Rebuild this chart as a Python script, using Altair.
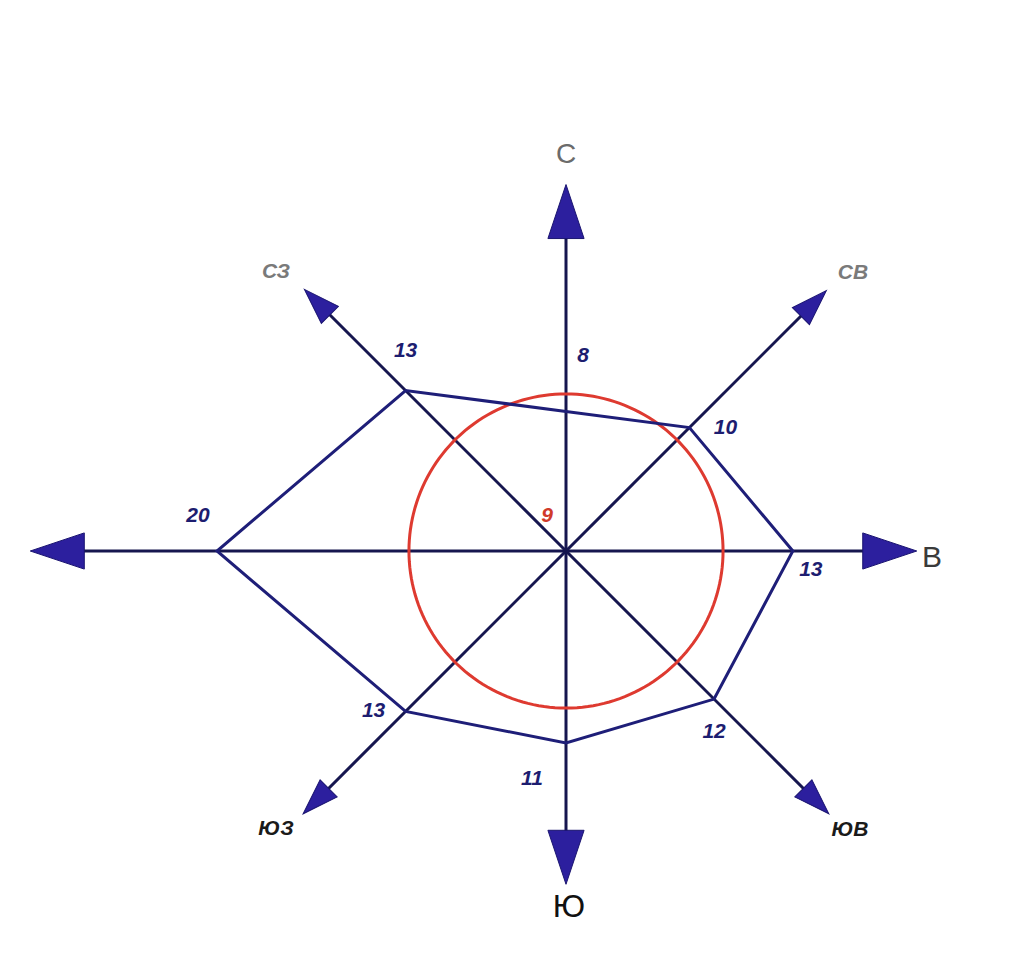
import numpy as np
import pandas as pd
import altair as alt

# ---------------- data ----------------
directions = ["С", "СВ", "В", "ЮВ", "Ю", "ЮЗ", "З", "СЗ"]
angles_deg = [0, 45, 90, 135, 180, 225, 270, 315]
frequency = [8, 10, 13, 12, 11, 13, 20, 13]
calm = 9

# ---------------- layout (pixels / units) ----------------
PX = 17.45                      # pixels per unit
W, H = 1004, 940
CX, CY = 558, 543               # centre inside the view
axis_len = [21.0, 21.1, 20.1, 21.3, 19.1, 21.3, 30.7, 21.2]   # arrow tip distance (units)
head_len = [54, 36, 54, 36, 54, 36, 54, 36]                   # arrowhead length (px)
# value-label offsets from vertex (px, screen coords: +x right, +y down)
val_dx = [17, 36, 18, 0, -34, -32, -19, 0]
val_dy = [-55, 0, 19, 33, 36, 0, -35, -40]
calm_dx, calm_dy = -19, -35
# direction-name positions (px from centre, screen coords)
name_dx = [0, 287, 366, 284, 3, -290, None, -290]
name_dy = [-396, -278, 7, 279, 356, 278, None, -279]
big_names = {"С": ("#6b6b6b", 28), "В": ("#3a3a3a", 30), "Ю": ("#111111", 32)}


def polar(r, deg):
    a = np.radians(deg)
    return r * np.sin(a), r * np.cos(a)


xs = alt.Scale(domain=[-CX / PX, (W - CX) / PX], nice=False, zero=False)
ys = alt.Scale(domain=[-(H - CY) / PX, CY / PX], nice=False, zero=False)
X = lambda f: alt.X(f, type="quantitative", scale=xs, axis=None)
Y = lambda f: alt.Y(f, type="quantitative", scale=ys, axis=None)

# axis lines
rows = []
for d, ang, L, h in zip(directions, angles_deg, axis_len, head_len):
    x2, y2 = polar(L - 0.8 * h / PX, ang)
    rows.append({"dir": d, "x": 0.0, "y": 0.0, "x2": x2, "y2": y2})
axes_df = pd.DataFrame(rows)

# arrowheads
rows = []
for d, ang, L, h in zip(directions, angles_deg, axis_len, head_len):
    x, y = polar(L - 0.5 * h / PX, ang)
    rows.append({"dir": d, "x": x, "y": y, "rot": ang, "size": h * h})
heads_df = pd.DataFrame(rows)

# polygon
rows = []
for i in range(len(directions) + 1):
    k = i % len(directions)
    x, y = polar(frequency[k], angles_deg[k])
    rows.append({"order": i, "x": x, "y": y})
poly_df = pd.DataFrame(rows)

# calm circle
rows = []
for i, t in enumerate(range(0, 361, 2)):
    x, y = polar(calm, t)
    rows.append({"order": i, "x": x, "y": y})
circle_df = pd.DataFrame(rows)

# value labels
rows = []
for v, ang, dx, dy in zip(frequency, angles_deg, val_dx, val_dy):
    x, y = polar(v, ang)
    rows.append({"label": str(v), "x": x + dx / PX, "y": y - dy / PX})
vals_df = pd.DataFrame(rows)
calm_df = pd.DataFrame([{"label": str(calm), "x": calm_dx / PX, "y": -calm_dy / PX}])

# direction names
big_rows, small_rows = [], []
for d, dx, dy in zip(directions, name_dx, name_dy):
    if dx is None:
        continue
    r = {"label": d, "x": dx / PX, "y": -dy / PX}
    if d in big_names:
        r["color"], r["fs"] = big_names[d]
        big_rows.append(r)
    else:
        r["color"] = "#7a7a7a" if d.startswith("С") else "#1a1a1a"
        small_rows.append(r)
big_df = pd.DataFrame(big_rows)
small_df = pd.DataFrame(small_rows)

FONT = "Liberation Sans"

axes_layer = alt.Chart(axes_df).mark_rule(color="#16164f", strokeWidth=3).encode(
    x=X("x"), y=Y("y"), x2="x2", y2="y2")

heads_layer = alt.Chart(heads_df).mark_point(
    shape="M0,-1L0.67,1L-0.67,1Z", filled=True, fill="#2c1f9e",
    stroke="#1a1470", strokeWidth=1, opacity=1).encode(
    x=X("x"), y=Y("y"),
    angle=alt.Angle("rot:Q", scale=None),
    size=alt.Size("size:Q", scale=None, legend=None))

circle_layer = alt.Chart(circle_df).mark_line(color="#de3a30", strokeWidth=3).encode(
    x=X("x"), y=Y("y"), order="order:Q")

poly_layer = alt.Chart(poly_df).mark_line(color="#1e1e78", strokeWidth=3).encode(
    x=X("x"), y=Y("y"), order="order:Q")

vals_layer = alt.Chart(vals_df).mark_text(
    font=FONT, fontSize=21, fontWeight="bold", fontStyle="italic", color="#1d1d70",
    align="center", baseline="middle").encode(x=X("x"), y=Y("y"), text="label:N")

calm_layer = alt.Chart(calm_df).mark_text(
    font=FONT, fontSize=21, fontWeight="bold", fontStyle="italic", color="#d03a2a",
    align="center", baseline="middle").encode(x=X("x"), y=Y("y"), text="label:N")

big_layer = alt.Chart(big_df).mark_text(
    font=FONT, align="center", baseline="middle").encode(
    x=X("x"), y=Y("y"), text="label:N",
    color=alt.Color("color:N", scale=None),
    size=alt.Size("fs:Q", scale=None, legend=None))

small_layer = alt.Chart(small_df).mark_text(
    font=FONT, fontSize=21, fontWeight="bold", fontStyle="italic",
    align="center", baseline="middle").encode(
    x=X("x"), y=Y("y"), text="label:N",
    color=alt.Color("color:N", scale=None))

chart = alt.layer(
    axes_layer, circle_layer, poly_layer, heads_layer,
    vals_layer, calm_layer, big_layer, small_layer
).properties(width=W, height=H, padding=0, background="white").configure_view(stroke=None)

chart.save("out.html", embed_options={"renderer": "svg", "actions": False})
